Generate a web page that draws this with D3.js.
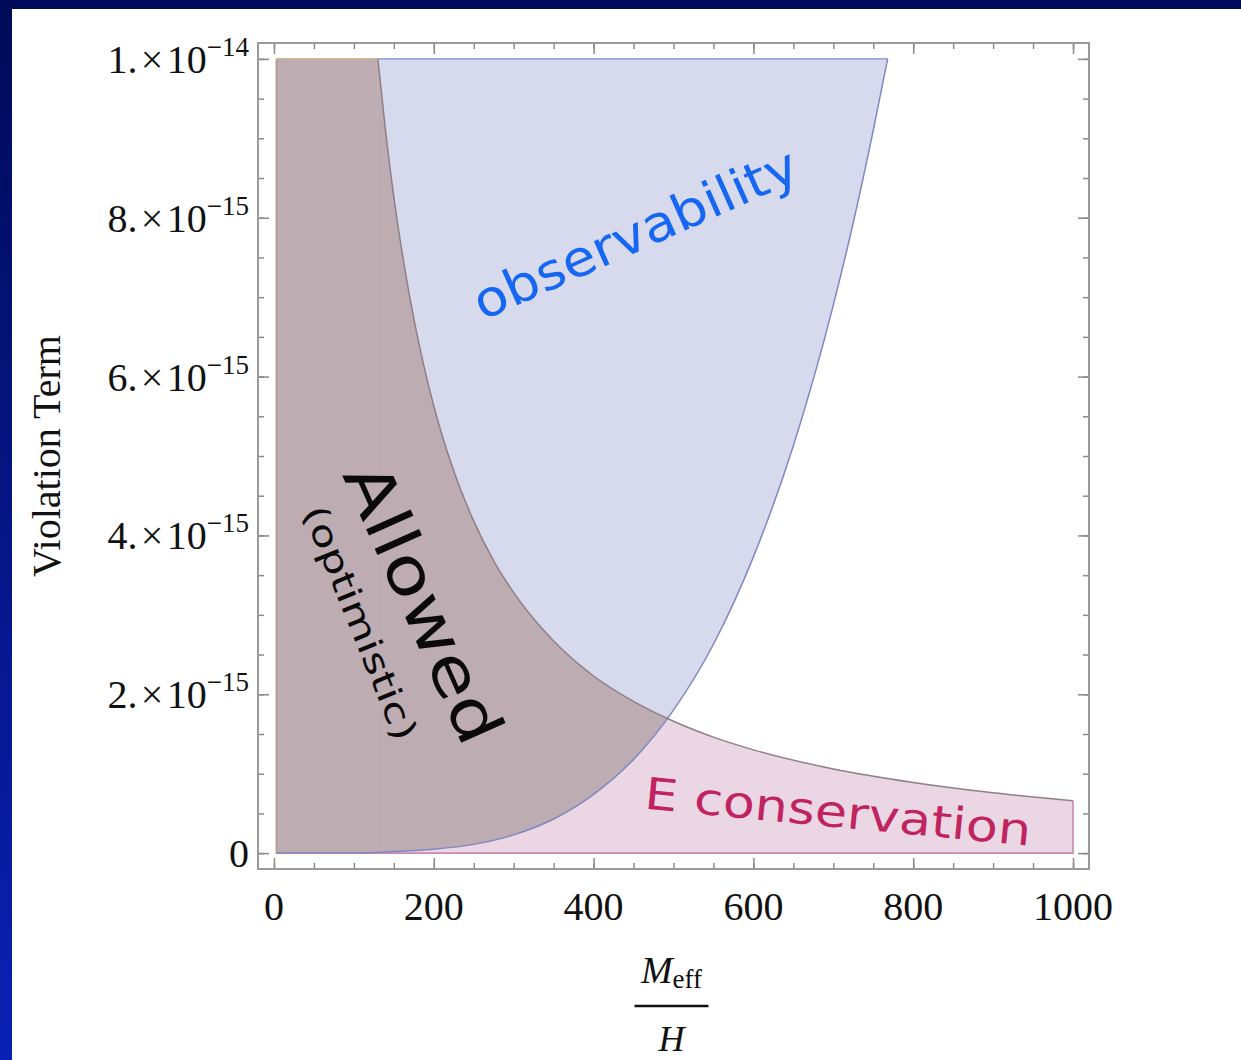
<!DOCTYPE html>
<html>
<head>
<meta charset="utf-8">
<script src="https://cdn.jsdelivr.net/npm/d3@7"></script>
<style>
  body { margin: 0; background: #fff; }
  svg { display: block; }
</style>
</head>
<body>
<svg id="chart" width="1241" height="1060"></svg>
<script>
// y values are in units of 1e-15
const eConsX = [130, 140, 150, 162, 175, 187, 200, 225, 250, 275, 300, 350, 400, 450, 500, 550, 600, 700, 800, 900, 1000];
const eConsY = [10, 9.06, 8.26, 7.46, 6.73, 6.16, 5.63, 4.81, 4.18, 3.68, 3.28, 2.67, 2.23, 1.91, 1.66, 1.46, 1.30, 1.06, 0.89, 0.76, 0.66];
const obsX = [3, 100, 150, 200, 250, 300, 350, 400, 450, 500, 550, 600, 650, 700, 725, 750, 768];
const obsY = [0, 0.00, 0.02, 0.05, 0.11, 0.23, 0.43, 0.74, 1.18, 1.80, 2.63, 3.73, 5.13, 6.90, 7.94, 9.10, 10];
const regionX = [3, 1000];   // left / right edge of the plotted regions
const regionTop = 10;        // 1e-14

const xTicks = [0, 200, 400, 600, 800, 1000];
const xMinorTicks = d3.range(0, 1001, 50);
const yTicks = [0, 2, 4, 6, 8, 10];
const yMinorTicks = d3.range(0, 10.01, 0.5);
const yTickMantissa = ["0", "2.", "4.", "6.", "8.", "1."];
const yTickExponent = ["", "\u221215", "\u221215", "\u221215", "\u221215", "\u221214"];

const svg = d3.select("#chart");
const frame = { left: 258, right: 1089, top: 43, bottom: 869 };

// slide background
const defs = svg.append("defs");
const grad = defs.append("linearGradient").attr("id", "slideGrad")
  .attr("x1", 0).attr("y1", 0).attr("x2", 0).attr("y2", 1);
grad.append("stop").attr("offset", "0%").attr("stop-color", "#000b58");
grad.append("stop").attr("offset", "100%").attr("stop-color", "#0a20b4");
svg.append("rect").attr("width", 1241).attr("height", 1060).attr("fill", "url(#slideGrad)");
svg.append("rect").attr("x", 0).attr("y", 0).attr("width", 1241).attr("height", 9).attr("fill", "#000a5a");
svg.append("rect").attr("x", 12).attr("y", 9).attr("width", 1229).attr("height", 1051).attr("fill", "#fff");

const x = d3.scaleLinear().domain([-20, 1020]).range([frame.left, frame.right]);
const y = d3.scaleLinear().domain([-0.2, 10.2]).range([frame.bottom, frame.top]);

const eCons = eConsX.map((v, i) => [v, eConsY[i]]);
const obs = obsX.map((v, i) => [v, obsY[i]]);
const flatTop = [[regionX[0], regionTop], [eConsX[0], regionTop]];

const underArea = d3.area().x(d => x(d[0])).y0(y(0)).y1(d => y(d[1])).curve(d3.curveMonotoneX);
const overArea = d3.area().x(d => x(d[0])).y0(d => y(d[1])).y1(y(regionTop)).curve(d3.curveMonotoneX);
const curve = d3.line().x(d => x(d[0])).y(d => y(d[1])).curve(d3.curveMonotoneX);
const straight = d3.line().x(d => x(d[0])).y(d => y(d[1]));

defs.append("clipPath").attr("id", "obsClip").append("path").attr("d", overArea(obs));

const plot = svg.append("g");

// E conservation (pink)
plot.append("path").attr("d", underArea(flatTop)).attr("fill", "#ebd6e4");
plot.append("path").attr("d", underArea(eCons)).attr("fill", "#ebd6e4");
// observability (blue)
plot.append("path").attr("d", overArea(obs)).attr("fill", "#d7d9ed");
// overlap (allowed)
const overlap = plot.append("g").attr("clip-path", "url(#obsClip)");
overlap.append("path").attr("d", underArea(flatTop)).attr("fill", "#bdacb2");
overlap.append("path").attr("d", underArea(eCons)).attr("fill", "#bdacb2");

// boundaries
plot.append("path").attr("d", straight([[regionX[0], 0], [regionX[1], 0], [regionX[1], eConsY[eConsY.length - 1]]]))
  .attr("fill", "none").attr("stroke", "#c98aab").attr("stroke-width", 1.6);
plot.append("path").attr("d", straight([[regionX[0], 0], [regionX[0], regionTop]]))
  .attr("fill", "none").attr("stroke", "#b39a8c").attr("stroke-width", 1.6);
plot.append("path").attr("d", straight(flatTop))
  .attr("fill", "none").attr("stroke", "#cdb892").attr("stroke-width", 1.6);
plot.append("path").attr("d", straight([[eConsX[0], regionTop], [obsX[obsX.length - 1], regionTop]]))
  .attr("fill", "none").attr("stroke", "#a0a4d8").attr("stroke-width", 1.6);
plot.append("path").attr("d", curve(obs))
  .attr("fill", "none").attr("stroke", "#7f88c2").attr("stroke-width", 1.5);
plot.append("path").attr("d", curve(eCons))
  .attr("fill", "none").attr("stroke", "#8f7f86").attr("stroke-width", 1.5);

// frame and ticks
const tickColor = "#8a8a8a";
function ticks(axis, pos, values, size) {
  const g = svg.append("g").attr("transform", pos)
    .call(axis.tickValues(values).tickSize(size).tickFormat(""));
  g.select(".domain").remove();
  g.selectAll("line").attr("stroke", tickColor).attr("stroke-width", 1.5);
}
ticks(d3.axisBottom(x), `translate(0,${frame.bottom})`, xMinorTicks, -6);
ticks(d3.axisBottom(x), `translate(0,${frame.bottom})`, xTicks, -11);
ticks(d3.axisTop(x), `translate(0,${frame.top})`, xMinorTicks, -6);
ticks(d3.axisTop(x), `translate(0,${frame.top})`, xTicks, -11);
ticks(d3.axisLeft(y), `translate(${frame.left},0)`, yMinorTicks, -6);
ticks(d3.axisLeft(y), `translate(${frame.left},0)`, yTicks, -11);
ticks(d3.axisRight(y), `translate(${frame.right},0)`, yMinorTicks, -6);
ticks(d3.axisRight(y), `translate(${frame.right},0)`, yTicks, -11);

svg.append("rect")
  .attr("x", frame.left).attr("y", frame.top)
  .attr("width", frame.right - frame.left).attr("height", frame.bottom - frame.top)
  .attr("fill", "none").attr("stroke", "#9a9a9a").attr("stroke-width", 2);

const serif = "'Liberation Serif', 'Times New Roman', serif";

svg.append("g").selectAll("text").data(xTicks).join("text")
  .attr("x", d => x(d)).attr("y", 920)
  .attr("text-anchor", "middle")
  .attr("font-family", serif).attr("font-size", 40).attr("fill", "#111")
  .text(d => d);

const yLab = svg.append("g").selectAll("text").data(yTicks).join("text")
  .attr("x", 249).attr("y", d => y(d) + 14)
  .attr("text-anchor", "end")
  .attr("font-family", serif).attr("font-size", 40).attr("fill", "#111");
yLab.append("tspan").text((d, i) => yTickExponent[i] ? yTickMantissa[i] + "\u200a\u00d7\u200a10" : yTickMantissa[i]);
yLab.filter((d, i) => yTickExponent[i] !== "").append("tspan")
  .attr("dy", -17).attr("font-size", 27)
  .text(d => yTickExponent[yTicks.indexOf(d)]);

svg.append("text")
  .attr("transform", "translate(60,456) rotate(-90)")
  .attr("text-anchor", "middle")
  .attr("font-family", serif).attr("font-size", 40).attr("fill", "#111")
  .text("Violation Term");

// x label: M_eff / H
const cx = (frame.left + frame.right) / 2 - 2;
const num = svg.append("text").attr("x", cx).attr("y", 983).attr("text-anchor", "middle")
  .attr("font-family", serif).attr("fill", "#111");
num.append("tspan").attr("font-size", 38).attr("font-style", "italic").text("M");
num.append("tspan").attr("font-size", 27).attr("dy", 5).text("eff");
svg.append("line").attr("x1", cx - 37).attr("x2", cx + 37).attr("y1", 1006).attr("y2", 1006)
  .attr("stroke", "#111").attr("stroke-width", 2.5);
svg.append("text").attr("x", cx).attr("y", 1051).attr("text-anchor", "middle")
  .attr("font-family", serif).attr("font-size", 36).attr("font-style", "italic").attr("fill", "#111")
  .text("H");

// hand-written annotations
const hand = "'DejaVu Sans', 'Noto Sans', sans-serif";
function note(txt, dx, dy, angle, size, len, color, weight) {
  svg.append("text")
    .attr("transform", `translate(${x(dx)},${y(dy)}) rotate(${angle})`)
    .attr("text-anchor", "middle").attr("dy", "0.35em")
    .attr("font-family", hand).attr("font-size", size).attr("font-weight", weight)
    .attr("fill", color)
    .attr("textLength", len).attr("lengthAdjust", "spacingAndGlyphs")
    .text(txt);
}
note("observability", 452, 7.8, -24, 50, 350, "#1566f2", 400);
note("Allowed", 187, 3.15, 66, 64, 300, "#0a0a0a", 400);
note("(optimistic)", 108, 2.9, 68, 34, 250, "#0a0a0a", 400);
note("E conservation", 706, 0.52, 5.5, 44, 388, "#c0245f", 400);
</script>
</body>
</html>
